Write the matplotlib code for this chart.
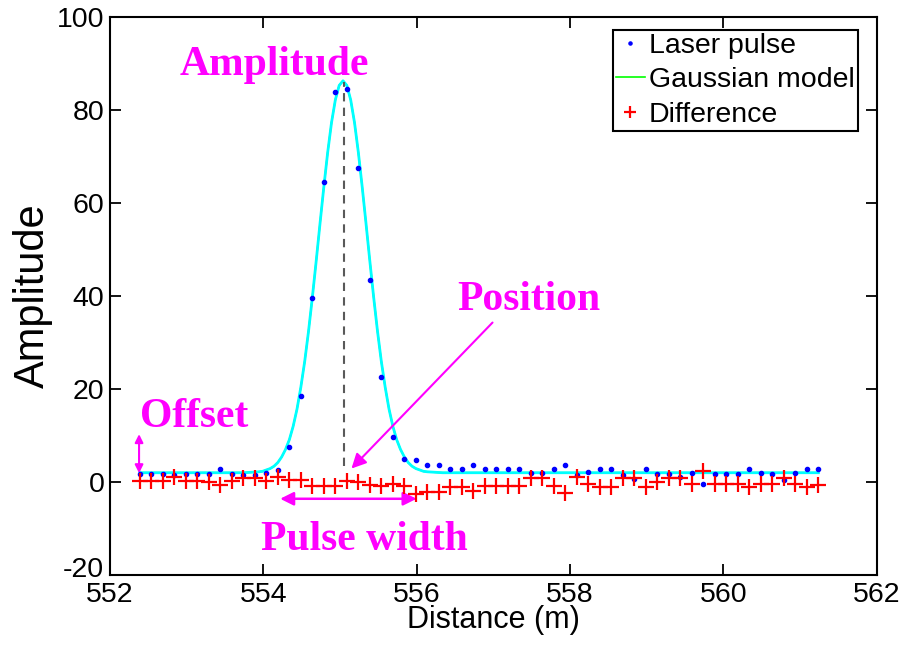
import matplotlib
matplotlib.use("Agg")
import matplotlib.pyplot as plt
import matplotlib.transforms as mtransforms

# sample positions (m) and measured laser pulse
distance = [552.39, 552.54, 552.69, 552.84, 552.99, 553.14, 553.29, 553.44, 553.59, 553.74,
            553.89, 554.04, 554.19, 554.34, 554.49, 554.64, 554.79, 554.94, 555.09, 555.24,
            555.39, 555.54, 555.69, 555.84, 555.99, 556.14, 556.29, 556.44, 556.59, 556.74,
            556.89, 557.04, 557.19, 557.34, 557.49, 557.64, 557.79, 557.94, 558.09, 558.24,
            558.39, 558.54, 558.69, 558.84, 558.99, 559.14, 559.29, 559.44, 559.59, 559.74,
            559.89, 560.04, 560.19, 560.34, 560.49, 560.64, 560.79, 560.94, 561.09, 561.24]

laser_pulse = [1.8, 1.8, 1.8, 1.5, 1.8, 1.8, 1.8, 2.9, 1.8, 1.6,
               1.6, 2.0, 2.6, 7.5, 18.6, 39.5, 64.5, 83.8, 84.6, 67.5,
               43.4, 22.6, 9.6, 4.9, 4.8, 3.6, 3.6, 2.7, 2.7, 3.7,
               2.7, 2.7, 2.7, 2.7, 2.0, 2.0, 2.7, 3.7, 1.5, 2.2,
               2.9, 2.9, 1.5, 0.6, 2.9, 1.7, 1.8, 1.0, 2.0, -0.4,
               1.7, 1.7, 1.7, 2.9, 1.9, 1.7, 0.4, 1.9, 2.9, 2.9]

difference = [0.3, 0.3, 0.3, 1.1, 0.2, 0.2, 0.0, -0.7, 0.2, 0.9,
              0.9, 0.3, 1.0, 0.4, 0.4, -0.9, -0.9, -0.9, 0.3, 0.1,
              -0.6, -0.8, -0.4, -0.9, -2.6, -2.2, -2.1, -1.1, -1.1, -2.0,
              -0.9, -0.9, -0.9, -0.9, 0.85, 0.85, -0.9, -2.3, 1.0, -0.4,
              -1.1, -1.1, 0.85, 0.85, -1.1, 0.0, 0.85, 0.85, -0.4, 2.3,
              -0.4, -0.4, -0.4, -1.1, -0.4, -0.4, 0.85, -0.4, -1.1, -0.7]

# gaussian model curve
model_dist = [552.39, 553.74, 553.84, 553.94, 553.99, 554.04, 554.09, 554.14, 554.19, 554.24,
              554.29, 554.34, 554.39, 554.44, 554.49, 554.54, 554.59, 554.64, 554.69, 554.74,
              554.79, 554.84, 554.89, 554.94, 554.99, 555.04, 555.09, 555.14, 555.19, 555.24,
              555.29, 555.34, 555.39, 555.44, 555.49, 555.54, 555.59, 555.64, 555.69, 555.74,
              555.79, 555.84, 555.89, 555.94, 555.99, 556.04, 556.09, 556.14, 556.24, 556.34,
              561.24]
model_amp = [2.0, 2.0, 2.1, 2.2, 2.3, 2.6, 2.9, 3.4, 4.2, 5.4,
             7.0, 9.1, 12.0, 15.7, 20.4, 25.9, 32.4, 39.7, 47.5, 55.6,
             63.5, 70.9, 77.3, 82.2, 85.3, 86.3, 85.3, 82.2, 77.3, 70.9,
             63.5, 55.6, 47.5, 39.7, 32.4, 25.9, 20.4, 15.7, 12.0, 9.1,
             7.0, 5.4, 4.2, 3.4, 2.9, 2.6, 2.3, 2.2, 2.1, 2.0,
             2.0]

# fitted parameters marked on the chart
peak_pos = 555.05
peak_amp = 86.0
offset = 2.0

magenta = "#ff00ff"
plt.rcParams["font.family"] = ["Liberation Sans", "DejaVu Sans"]
plt.rcParams["axes.unicode_minus"] = False

fig = plt.figure(figsize=(9.01, 6.45), dpi=100)
ax = fig.add_axes([0.122, 0.1085, 0.851, 0.865])

ax.plot(distance, laser_pulse, ".", color="#0000ff", ms=6, label="Laser pulse", zorder=4)
ax.plot(model_dist, model_amp, color="#00ff00", lw=1.2, label="Gaussian model", zorder=2)
ax.plot(model_dist, model_amp, color="#00ffff", lw=2.0, zorder=3)
ax.plot(distance, difference, "+", color="#ff0000", ms=11, mew=1.6, label="Difference", zorder=4)

# position marker
ax.plot([peak_pos, peak_pos], [offset + 1.5, peak_amp], color="0.35", ls=(0, (4, 3)), lw=1.5, zorder=3)

# annotations
bold = dict(color=magenta, fontsize=30, fontweight="bold", family="Liberation Serif")
ax.text(554.15, 87.5, "Amplitude", ha="center", va="baseline", **bold)
ax.text(557.46, 37.1, "Position", ha="center", va="baseline", **bold)
ax.text(553.10, 11.9, "Offset", ha="center", va="baseline", **bold)
ax.text(555.32, -14.7, "Pulse width", ha="center", va="baseline", **bold)

ax.annotate("", xy=(555.15, 2.9), xytext=(556.99, 34.3),
            arrowprops=dict(arrowstyle="-|>", color=magenta, lw=1.5, mutation_scale=22,
                            shrinkA=0, shrinkB=0))
ax.annotate("", xy=(552.38, 1.9), xytext=(552.38, 10.3),
            arrowprops=dict(arrowstyle="<|-|>", color=magenta, lw=1.5, mutation_scale=12,
                            shrinkA=0, shrinkB=0))
ax.annotate("", xy=(556.0, -3.6), xytext=(554.22, -3.6),
            arrowprops=dict(arrowstyle="<|-|>", color=magenta, lw=1.8, mutation_scale=20,
                            shrinkA=0, shrinkB=0))

ax.set_xlim(552, 562)
ax.set_ylim(-20, 100)
ax.set_xticks([552, 554, 556, 558, 560, 562])
ax.set_yticks([-20, 0, 20, 40, 60, 80, 100])
ax.tick_params(direction="in", length=8, width=1.3, labelsize=20.5, top=True, right=True, pad=4)
ax.tick_params(axis="x", pad=5)
for s in ax.spines.values():
    s.set_linewidth(1.5)

# lift the lowest y label a little so it clears "552"
low = ax.yaxis.get_major_ticks()[0].label1
low.set_transform(low.get_transform() + mtransforms.ScaledTranslation(0, 6 / 72, fig.dpi_scale_trans))

ax.set_xlabel("Distance (m)", fontsize=22, labelpad=-2)
ax.set_ylabel("Amplitude", fontsize=30, labelpad=3)

leg = ax.legend(loc="upper right", bbox_to_anchor=(0.975, 0.977), fontsize=20.5,
                fancybox=False, edgecolor="black", framealpha=1, handlelength=1.0,
                handletextpad=0.15, borderpad=0.1, labelspacing=0.3, borderaxespad=0)
leg.get_frame().set_linewidth(1.5)
for h in leg.legend_handles:
    h.set_markersize(h.get_markersize() * 0.75)

fig.savefig("out.png", dpi=100)
